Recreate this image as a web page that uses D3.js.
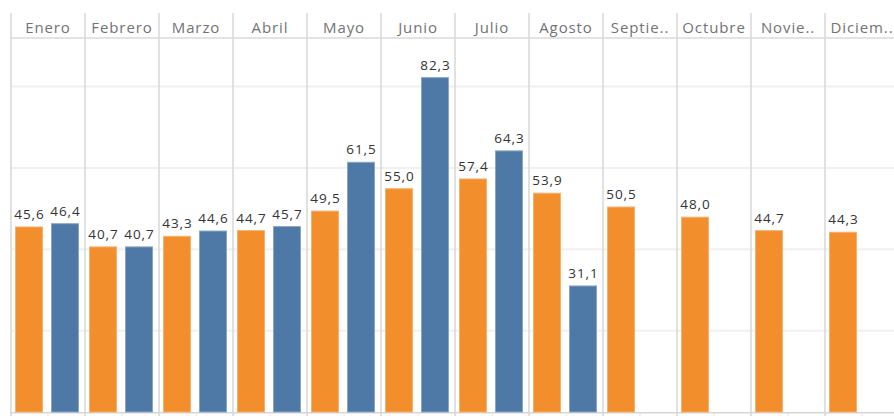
<!DOCTYPE html>
<html>
<head>
<meta charset="utf-8">
<script src="https://cdn.jsdelivr.net/npm/d3@7"></script>
<style>
  html, body { margin: 0; padding: 0; background: #fff; }
  svg { display: block; }
  text { font-family: "Open Sans", "Noto Sans", sans-serif; }
</style>
</head>
<body>
<svg id="chart" width="894" height="416"></svg>
<script>
// Monthly values, two years side by side (current year only through August)
const months = ["Enero", "Febrero", "Marzo", "Abril", "Mayo", "Junio",
                "Julio", "Agosto", "Septiembre", "Octubre", "Noviembre", "Diciembre"];
const monthHeaders = ["Enero", "Febrero", "Marzo", "Abril", "Mayo", "Junio",
                      "Julio", "Agosto", "Septie..", "Octubre", "Novie..", "Diciem.."];
const years = ["2022", "2023"];
const values2022 = [45.6, 40.7, 43.3, 44.7, 49.5, 55.0, 57.4, 53.9, 50.5, 48.0, 44.7, 44.3];
const values2023 = [46.4, 40.7, 44.6, 45.7, 61.5, 82.3, 64.3, 31.1, null, null, null, null];
const gridValues = [20, 40, 60, 80];

const colors = { "2022": "#F28E2B", "2023": "#4E79A7" };
const strokes = { "2022": "#F6B06F", "2023": "#8AA6C4" };

const W = 894, H = 416;
const paneLeft = 11, paneW = 74;
const headerTop = 13, headerBottom = 38, baseY = 412;

const svg = d3.select("#chart");

const x = d3.scaleBand().domain(months)
  .range([paneLeft, paneLeft + paneW * months.length]);
const xi = d3.scaleBand().domain(years).range([0, paneW])
  .paddingInner(8 / 36).paddingOuter(5 / 36).align(0.4);
const y = d3.scaleLinear().domain([0, 80]).range([baseY, 86.5]);

const locale = d3.formatLocale({ decimal: ",", thousands: ".", grouping: [3], currency: ["", "€"] });
const fmt = locale.format(".1f");

// horizontal gridlines
svg.append("g").selectAll("line").data(gridValues).join("line")
  .attr("x1", paneLeft).attr("x2", W)
  .attr("y1", d => y(d)).attr("y2", d => y(d))
  .attr("stroke", "#f0f0f0").attr("stroke-width", 2);

// pane dividers
svg.append("g").selectAll("line").data(months).join("line")
  .attr("x1", d => x(d)).attr("x2", d => x(d))
  .attr("y1", headerTop).attr("y2", H)
  .attr("stroke", "#dadada").attr("stroke-width", 1.6);

// header rule and baseline
svg.append("line").attr("x1", paneLeft - 1).attr("x2", W)
  .attr("y1", headerBottom).attr("y2", headerBottom)
  .attr("stroke", "#dadada").attr("stroke-width", 1.6);
svg.append("line").attr("x1", paneLeft - 1).attr("x2", W)
  .attr("y1", baseY + 0.8).attr("y2", baseY + 0.8)
  .attr("stroke", "#d6d6d6").attr("stroke-width", 1.6);

// small ticks under each pane
svg.append("g").selectAll("line").data(months).join("line")
  .attr("x1", d => x(d) + paneW / 2).attr("x2", d => x(d) + paneW / 2)
  .attr("y1", baseY + 1).attr("y2", H)
  .attr("stroke", "#e2e2e2").attr("stroke-width", 1);

// month headers
svg.append("g").selectAll("text").data(months).join("text")
  .attr("x", (d, i) => x(d) + paneW / 2)
  .attr("y", 33.3)
  .attr("text-anchor", "middle")
  .attr("font-size", 15)
  .attr("letter-spacing", 0.9)
  .attr("fill", "#737373")
  .text((d, i) => monthHeaders[i]);

// bars and value labels
const rows = [];
months.forEach((m, i) => {
  rows.push({ month: m, year: "2022", value: values2022[i] });
  if (values2023[i] != null) rows.push({ month: m, year: "2023", value: values2023[i] });
});

svg.append("g").selectAll("rect").data(rows).join("rect")
  .attr("x", d => x(d.month) + xi(d.year) + 0.5)
  .attr("y", d => y(d.value) + 0.5)
  .attr("width", xi.bandwidth() - 1)
  .attr("height", d => baseY - y(d.value) - 0.5)
  .attr("fill", d => colors[d.year])
  .attr("stroke", d => strokes[d.year])
  .attr("stroke-width", 1);

svg.append("g").selectAll("text").data(rows).join("text")
  .attr("x", d => x(d.month) + xi(d.year) + xi.bandwidth() / 2 + 0.5)
  .attr("y", d => y(d.value) - 7.5)
  .attr("text-anchor", "middle")
  .attr("font-size", 13.5)
  .attr("letter-spacing", 0.9)
  .attr("fill", "#333333")
  .text(d => fmt(d.value));
</script>
</body>
</html>
